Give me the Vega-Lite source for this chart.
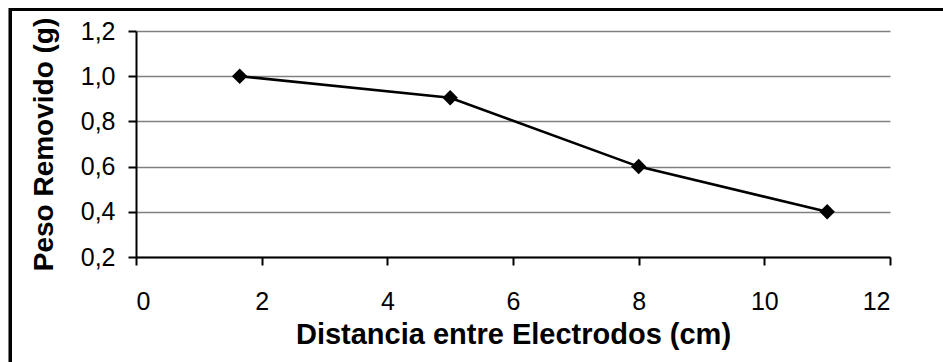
{
  "$schema": "https://vega.github.io/schema/vega-lite/v6.json",
  "autosize": {"type": "none"},
  "width": 754,
  "height": 226,
  "padding": {"left": 136, "top": 31, "right": 53, "bottom": 105},
  "background": "white",
  "config": {
    "view": {"stroke": null},
    "font": "Liberation Sans"
  },
  "data": {
    "values": [
      {"distancia": 1.65, "peso": 1.0},
      {"distancia": 5, "peso": 0.905},
      {"distancia": 8, "peso": 0.6},
      {"distancia": 11, "peso": 0.4}
    ]
  },
  "layer": [
    {
      "mark": {"type": "rect", "fill": null, "stroke": "black", "strokeWidth": 3, "clip": false},
      "encoding": {
        "x": {"datum": -2.0, "type": "quantitative"},
        "x2": {"datum": 13},
        "y": {"datum": 1.295, "type": "quantitative"},
        "y2": {"datum": -0.3}
      }
    },
    {
      "mark": {"type": "line", "color": "black", "strokeWidth": 2.6},
      "encoding": {
        "x": {
          "field": "distancia",
          "type": "quantitative",
          "scale": {"domain": [0, 12], "nice": false, "zero": false},
          "axis": {
            "title": "Distancia entre Electrodos (cm)",
            "values": [0, 2, 4, 6, 8, 10, 12],
            "format": "d",
            "grid": false,
            "domainColor": "black",
            "domainWidth": 2,
            "tickColor": "black",
            "tickWidth": 2,
            "tickSize": 8,
            "labelFontSize": 25,
            "labelColor": "black",
            "labelPadding": 24,
            "labelFont": "Liberation Sans",
            "titleFont": "Liberation Sans",
            "titleFontSize": 29,
            "titleFontWeight": "bold",
            "titleColor": "black",
            "titlePadding": 6
          }
        },
        "y": {
          "field": "peso",
          "type": "quantitative",
          "scale": {"domain": [0.2, 1.2], "nice": false, "zero": false},
          "axis": {
            "title": "Peso Removido (g)",
            "values": [0.2, 0.4, 0.6, 0.8, 1.0, 1.2],
            "labelExpr": "replace(format(datum.value, '.1f'), '.', ',')",
            "grid": true,
            "gridColor": "#808080",
            "gridWidth": 1.3,
            "domainColor": "black",
            "domainWidth": 2,
            "tickColor": "black",
            "tickWidth": 2,
            "tickSize": 8,
            "labelFontSize": 25,
            "labelColor": "black",
            "labelPadding": 13,
            "labelFont": "Liberation Sans",
            "titleFont": "Liberation Sans",
            "titleFontSize": 28,
            "titleFontWeight": "bold",
            "titleColor": "black",
            "titlePadding": 22
          }
        }
      }
    },
    {
      "mark": {"type": "point", "shape": "diamond", "filled": true, "color": "black", "size": 240, "opacity": 1},
      "encoding": {
        "x": {"field": "distancia", "type": "quantitative"},
        "y": {"field": "peso", "type": "quantitative"}
      }
    }
  ]
}
